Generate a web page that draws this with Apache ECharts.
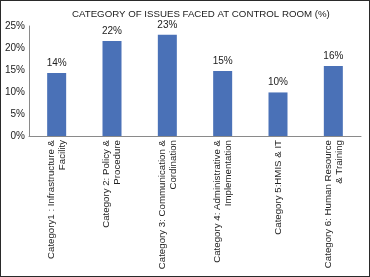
<!DOCTYPE html>
<html>
<head>
<meta charset="utf-8">
<script src="https://cdn.jsdelivr.net/npm/echarts@6/dist/echarts.min.js"></script>
<style>
  html, body { margin: 0; padding: 0; background: #fff; }
  #container { width: 368px; height: 275px; border: 1px solid #2a2a2a; }
</style>
</head>
<body>
<div id="container"></div>
<script>
// 数据
var categories = [
    'Category1 : Infrastructure &\nFacility',
    'Category 2: Policy &\nProcedure',
    'Category 3: Communication &\nCordination',
    'Category 4: Administrative &\nImplementation',
    'Category 5:HMIS & IT',
    'Category 6: Human Resource\n& Training'
];
var issueValues = [14.3, 21.6, 23.0, 14.8, 9.9, 15.9];
var yTicks = [0, 5, 10, 15, 20, 25];

var myChart = echarts.init(document.getElementById('container'));
var option = {
    animation: false,
    textStyle: { fontFamily: 'Liberation Sans, Arial, sans-serif' },
    title: {
        text: 'CATEGORY OF ISSUES FACED AT CONTROL ROOM (%)',
        left: 66,
        top: 3,
        textStyle: { fontSize: 9.7, fontWeight: 'normal', color: '#1a1a1a', fontFamily: 'Liberation Sans, Arial, sans-serif' }
    },
    //控制4周margin
    grid: { left: 28, right: 8, top: 25, bottom: 140, containLabel: false, outerBoundsMode: 'none' },
    xAxis: {
        type: 'category',
        data: categories,
        axisLine: { show: true, lineStyle: { color: '#8a8a8a', width: 1 } },
        axisTick: { show: false },
        axisLabel: {
            interval: 0,
            rotate: 90,
            fontSize: 9.7,
            lineHeight: 11,
            color: '#222',
            margin: 4
        }
    },
    yAxis: {
        type: 'value',
        min: yTicks[0],
        max: yTicks[yTicks.length - 1],
        interval: yTicks[1] - yTicks[0],
        axisLine: { show: true, lineStyle: { color: '#8a8a8a', width: 1 } },
        axisTick: { show: false },
        splitLine: { show: false },
        axisLabel: { formatter: '{value}%', fontSize: 10, color: '#1a1a1a', margin: 4 }
    },
    series: [{
        type: 'bar',
        data: issueValues,
        barWidth: 19,
        itemStyle: { color: '#4a71b7' },
        label: {
            show: true,
            position: 'top',
            distance: 5,
            fontSize: 10,
            color: '#222',
            formatter: function (p) { return Math.round(p.value) + '%'; }
        }
    }]
};
myChart.setOption(option);
</script>
</body>
</html>
